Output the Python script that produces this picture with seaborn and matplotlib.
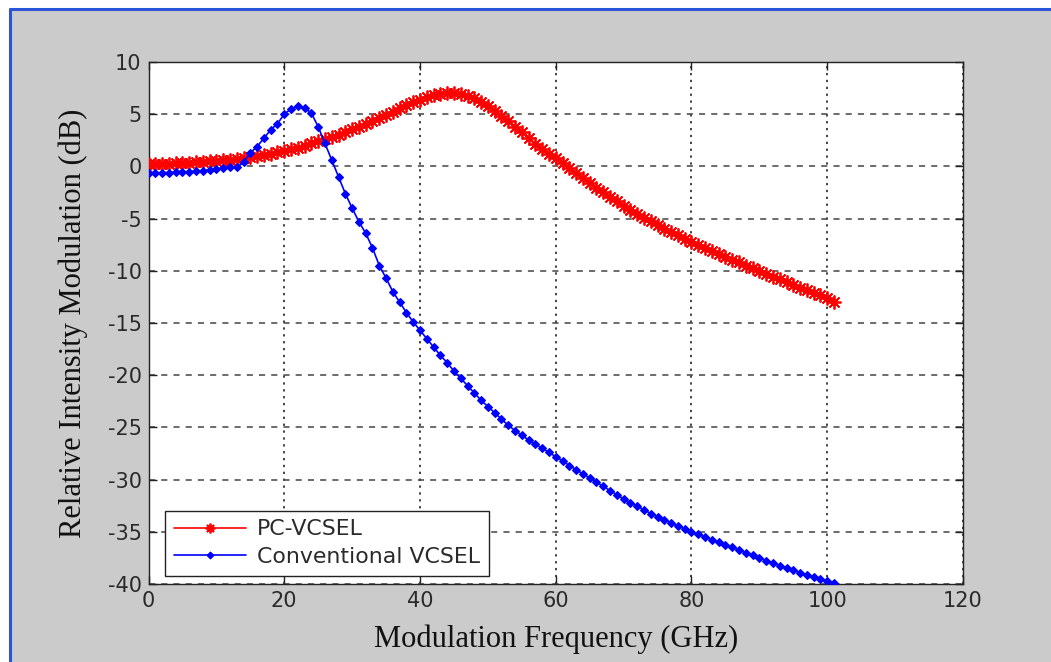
import numpy as np
import pandas as pd
import matplotlib
matplotlib.use("Agg")
import matplotlib.pyplot as plt
from matplotlib.patches import Rectangle
from matplotlib.lines import Line2D
import seaborn as sns

# ---- data ----
freq_ghz = list(range(0, 102))

pc_vcsel_db = [
    0.2, 0.2, 0.25, 0.25, 0.3, 0.3, 0.35, 0.4, 0.45, 0.5,
    0.55, 0.6, 0.65, 0.75, 0.8, 0.9, 1.0, 1.1, 1.2, 1.35,
    1.5, 1.65, 1.8, 2.0, 2.2, 2.4, 2.6, 2.8, 3.05, 3.3,
    3.55, 3.8, 4.1, 4.35, 4.65, 4.95, 5.25, 5.55, 5.85, 6.15,
    6.4, 6.6, 6.8, 6.95, 7.0, 7.0, 6.9, 6.75, 6.55, 6.2,
    5.75, 5.3, 4.85, 4.35, 3.8, 3.25, 2.7, 2.15, 1.65, 1.2,
    0.8, 0.3, -0.2, -0.65, -1.1, -1.6, -2.05, -2.45, -2.9, -3.3,
    -3.75, -4.15, -4.55, -4.9, -5.25, -5.6, -5.95, -6.3, -6.6, -6.95,
    -7.25, -7.55, -7.85, -8.1, -8.4, -8.65, -8.95, -9.2, -9.5, -9.75,
    -10.0, -10.3, -10.55, -10.8, -11.1, -11.35, -11.6, -11.85, -12.1, -12.35,
    -12.65, -12.95,
]

conv_vcsel_db = [
    -0.65, -0.65, -0.6, -0.6, -0.55, -0.55, -0.5, -0.45, -0.4, -0.35,
    -0.25, -0.15, -0.1, -0.1, 0.4, 1.3, 1.9, 2.7, 3.5, 4.1,
    5.0, 5.5, 5.75, 5.6, 5.1, 3.8, 2.2, 0.6, -1.0, -2.6,
    -4.0, -5.3, -6.4, -7.8, -9.5, -10.7, -12.0, -13.0, -14.0, -14.9,
    -15.7, -16.5, -17.3, -18.1, -18.8, -19.6, -20.3, -21.0, -21.7, -22.4,
    -23.0, -23.6, -24.2, -24.8, -25.3, -25.75, -26.2, -26.6, -27.0, -27.4,
    -27.8, -28.2, -28.65, -29.05, -29.45, -29.85, -30.25, -30.65, -31.05, -31.45,
    -31.85, -32.2, -32.55, -32.9, -33.25, -33.55, -33.85, -34.15, -34.45, -34.7,
    -35.0, -35.25, -35.5, -35.75, -36.0, -36.25, -36.5, -36.75, -37.0, -37.25,
    -37.5, -37.75, -38.0, -38.25, -38.45, -38.7, -38.9, -39.1, -39.3, -39.5,
    -39.7, -39.9,
]

series_names = ["PC-VCSEL", "Conventional VCSEL"]
x_ticks = [0, 20, 40, 60, 80, 100, 120]
y_ticks = [-40, -35, -30, -25, -20, -15, -10, -5, 0, 5, 10]

df = pd.DataFrame({
    "freq": freq_ghz * 2,
    "db": pc_vcsel_db + conv_vcsel_db,
    "series": [series_names[0]] * len(freq_ghz) + [series_names[1]] * len(freq_ghz),
})

sns.set_style("white")
plt.rcParams["font.family"] = ["DejaVu Sans"]
plt.rcParams["axes.unicode_minus"] = False

W, H = 1051, 662
fig = plt.figure(figsize=(W / 100, H / 100), dpi=100, facecolor="white")

# gray window background with blue left/top border
fig.patches.append(Rectangle((10 / W, 0), 1 - 10 / W, 1 - 9 / H, transform=fig.transFigure,
                             facecolor="#cbcbcb", edgecolor="none", zorder=-10))
fig.lines.append(Line2D([10 / W, 10 / W], [0, 1 - 9 / H], transform=fig.transFigure,
                        color="#2b55d6", lw=2.2))
fig.lines.append(Line2D([10 / W, 1], [1 - 9 / H, 1 - 9 / H], transform=fig.transFigure,
                        color="#2b55d6", lw=2.2))

ax = fig.add_axes([148.5 / W, 1 - 584 / H, (963 - 148.5) / W, (584 - 62) / H])
ax.set_facecolor("white")

styles = {
    series_names[0]: dict(color="#ff0000", marker=(8, 2, 0), markersize=10,
                          markeredgewidth=1.3, markeredgecolor="#ff0000"),
    series_names[1]: dict(color="#0000ff", marker="D", markersize=4.2,
                          markeredgewidth=0.8, markeredgecolor="#0000ff"),
}
for name in series_names:
    sub = df[df["series"] == name]
    sns.lineplot(data=sub, x="freq", y="db", ax=ax, label=name, lw=1.2,
                 estimator=None, sort=False, zorder=3, **styles[name])

ax.set_xlim(0, 120)
ax.set_ylim(-40, 10)
ax.set_xticks(x_ticks)
ax.set_yticks(y_ticks)

ax.xaxis.grid(True, linestyle=(0, (1.5, 3)), color="#111111", lw=1.1)
ax.yaxis.grid(True, linestyle=(0, (4, 4)), color="#444444", lw=1.1)
ax.set_axisbelow(True)

for s in ax.spines.values():
    s.set_color("#222222")
    s.set_linewidth(1.0)
ax.tick_params(direction="in", length=6, width=1.0, colors="#222222",
               top=True, right=True, bottom=True, left=True, labelsize=15, pad=5)
for lab in ax.get_xticklabels() + ax.get_yticklabels():
    lab.set_color("#2a2a2a")

ax.set_xlabel("Modulation Frequency (GHz)", family="Liberation Serif", fontsize=22,
              color="#111111", labelpad=10)
ax.set_ylabel("Relative Intensity Modulation (dB)", family="Liberation Serif", fontsize=22,
              color="#111111", labelpad=14)

leg = ax.legend(loc="lower left", bbox_to_anchor=(0.012, 0.003), frameon=True,
                fancybox=False, edgecolor="#222222", framealpha=1, fontsize=15.8,
                handlelength=3.3, borderpad=0.4, labelspacing=0.35, handletextpad=0.5,
                borderaxespad=0.3)
leg.get_frame().set_linewidth(1.0)
for t in leg.get_texts():
    t.set_color("#2a2a2a")
for h in leg.legend_handles:
    h.set_markersize(7 if h.get_color() == "#ff0000" else 3.5)

fig.savefig("out.png", dpi=100, facecolor=fig.get_facecolor())
